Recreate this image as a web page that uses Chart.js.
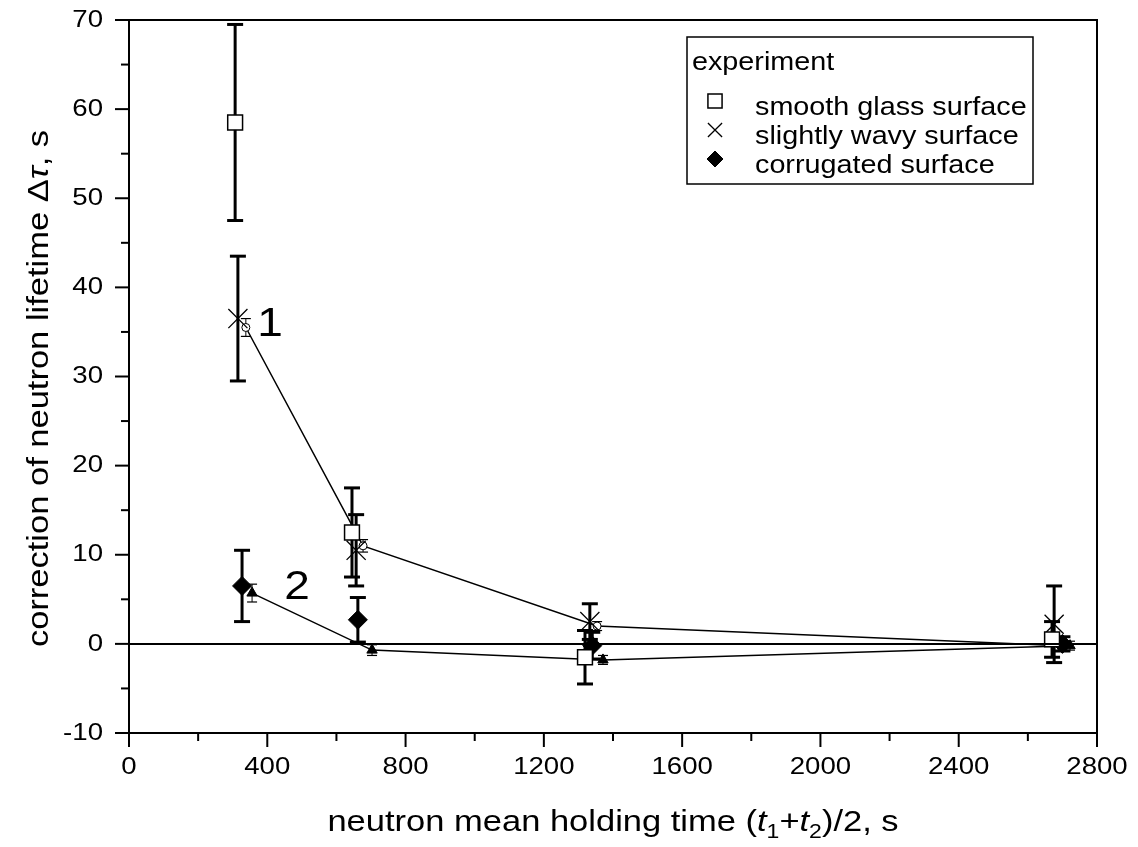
<!DOCTYPE html>
<html><head><meta charset="utf-8">
<script src="https://cdn.jsdelivr.net/npm/chart.js@4.4.1/dist/chart.umd.min.js"></script>
<style>html,body{margin:0;padding:0;background:#fff;overflow:hidden}canvas{display:block}</style>
</head><body>
<canvas id="c" width="1138" height="847"></canvas>
<script>
// ---------- data ----------
const xTicks = [0, 400, 800, 1200, 1600, 2000, 2400, 2800];
const yTicks = [-10, 0, 10, 20, 30, 40, 50, 60, 70];

const smoothX   = [307, 645, 1319, 2670];
const smoothY   = [58.5, 12.5, -1.5, 0.5];
const smoothErr = [11, 5, 3, 2];

const wavyX   = [315, 657, 1333, 2676];
const wavyY   = [36.5, 10.5, 2.5, 2.2];
const wavyErr = [7, 4, 2, 4.3];

const corrX   = [327, 662, 1340, 2700];
const corrY   = [6.5, 2.7, -0.2, 0.0];
const corrErr = [4, 2.5, 1.5, 0.8];

const calc1X   = [338, 677, 1354, 2700];
const calc1Y   = [35.5, 11.0, 2.0, -0.2];
const calc1Err = [1.0, 0.7, 0.5, 0.4];

const calc2X   = [356, 703, 1371, 2722];
const calc2Y   = [5.7, -0.7, -1.8, -0.2];
const calc2Err = [1.0, 0.6, 0.5, 0.5];

const curveLabels = ['1', '2'];
const curveLabelX = [408, 486];
const curveLabelY = [35.8, 6.3];

const legendTitle = 'experiment';
const legendNames = ['smooth glass surface', 'slightly wavy surface', 'corrugated surface'];

// ---------- rendering ----------
const SX = 1.15;
const FONT = '"Liberation Sans", Arial, sans-serif';
const canvas = document.getElementById('c');
const ctx0 = canvas.getContext('2d');
const origFill = CanvasRenderingContext2D.prototype.fillText;
ctx0.fillText = function (t, x, y, mw) {
  this.save(); this.translate(x, y); this.scale(SX, 1);
  origFill.call(this, t, 0, 0); this.restore();
};

const pts = (xs, ys) => xs.map((x, i) => ({ x: x, y: ys[i] }));

function seg(ctx, x1, y1, x2, y2) { ctx.beginPath(); ctx.moveTo(x1, y1); ctx.lineTo(x2, y2); ctx.stroke(); }

const errorBars = {
  id: 'errorBars',
  beforeDatasetsDraw(chart) {
    const { ctx, scales: { x, y } } = chart;
    ctx.save(); ctx.strokeStyle = '#000'; ctx.lineCap = 'butt';
    chart.data.datasets.forEach(ds => {
      if (!ds.errors) return;
      ds.data.forEach((p, i) => {
        const e = ds.errors[i];
        const px = x.getPixelForValue(p.x);
        const yt = y.getPixelForValue(p.y + e), yb = y.getPixelForValue(p.y - e);
        ctx.lineWidth = ds.errWidth;
        seg(ctx, px, yt, px, yb);
        ctx.lineWidth = ds.capLine;
        seg(ctx, px - ds.cap, yt, px + ds.cap, yt);
        seg(ctx, px - ds.cap, yb, px + ds.cap, yb);
      });
    });
    ctx.restore();
  }
};

const frame = {
  id: 'frame',
  afterDraw(chart) {
    const { ctx, chartArea: a, scales: { x, y } } = chart;
    ctx.save();
    ctx.strokeStyle = '#000'; ctx.lineWidth = 2;
    ctx.strokeRect(a.left, a.top, a.right - a.left, a.bottom - a.top);
    const y0 = y.getPixelForValue(0);
    seg(ctx, a.left, y0, a.right, y0);
    // major & minor ticks
    const yv = y.ticks.map(t => t.value);
    yv.forEach((v, i) => {
      const p = y.getPixelForValue(v);
      seg(ctx, a.left - 14, p, a.left, p);
      if (i < yv.length - 1) { const m = y.getPixelForValue((v + yv[i + 1]) / 2); seg(ctx, a.left - 8, m, a.left, m); }
    });
    const xv = x.ticks.map(t => t.value);
    xv.forEach((v, i) => {
      const p = x.getPixelForValue(v);
      seg(ctx, p, a.bottom, p, a.bottom + 14);
      if (i < xv.length - 1) { const m = x.getPixelForValue((v + xv[i + 1]) / 2); seg(ctx, m, a.bottom, m, a.bottom + 8); }
    });

    ctx.fillStyle = '#000';
    // curve labels
    ctx.font = '40px ' + FONT; ctx.textAlign = 'center'; ctx.textBaseline = 'middle';
    curveLabels.forEach((t, i) => ctx.fillText(t, x.getPixelForValue(curveLabelX[i]), y.getPixelForValue(curveLabelY[i])));

    // x title
    ctx.textBaseline = 'alphabetic'; ctx.textAlign = 'left';
    const big = '30px ' + FONT, it = 'italic 30px ' + FONT, sub = '20px ' + FONT;
    const parts = [
      ['neutron mean holding time (', big, 0], ['t', it, 0], ['1', sub, 7],
      ['+', big, 0], ['t', it, 0], ['2', sub, 7], [')/2, s', big, 0]
    ];
    let tw = 0;
    parts.forEach(p => { ctx.font = p[1]; tw += ctx.measureText(p[0]).width * SX; });
    let cx = (a.left + a.right) / 2 - tw / 2;
    const by = 831;
    parts.forEach(p => { ctx.font = p[1]; ctx.fillText(p[0], cx, by + p[2]); cx += ctx.measureText(p[0]).width * SX; });

    // y title (rotated, centred on the plot)
    const yparts = [['correction of neutron lifetime ', big], ['\u0394', big], ['\u03C4', it], [', s', big]];
    let yw = 0;
    yparts.forEach(p => { ctx.font = p[1]; yw += ctx.measureText(p[0]).width * SX; });
    ctx.save();
    ctx.translate(48, (a.top + a.bottom) / 2 + 12);
    ctx.rotate(-Math.PI / 2);
    let ty = -yw / 2;
    yparts.forEach(p => { ctx.font = p[1]; ctx.fillText(p[0], ty, 0); ty += ctx.measureText(p[0]).width * SX; });
    ctx.restore();

    // legend
    const L = 687, T = 37, W = 346, H = 147;
    ctx.lineWidth = 1.5;
    ctx.fillStyle = '#fff'; ctx.fillRect(L, T, W, H);
    ctx.strokeRect(L, T, W, H);
    ctx.fillStyle = '#000';
    ctx.font = '25px ' + FONT; ctx.textAlign = 'left'; ctx.textBaseline = 'alphabetic';
    ctx.fillText(legendTitle, 692, 70);
    const rows = [101, 130, 159];
    const ds = chart.data.datasets;
    legendNames.forEach((n, i) => {
      const d = ds[i];
      ctx.fillText(n, 755, rows[i] + 14);
      ctx.save();
      ctx.lineWidth = d.pointBorderWidth; ctx.strokeStyle = '#000'; ctx.fillStyle = d.pointBackgroundColor;
      Chart.helpers.drawPoint(ctx, { pointStyle: d.pointStyle, radius: d.legendRadius, borderWidth: d.pointBorderWidth, rotation: 0 }, 715, rows[i]);
      ctx.restore();
    });
    ctx.restore();
  }
};

const noPad = s => { s.paddingTop = 0; s.paddingBottom = 0; s.paddingLeft = 0; s.paddingRight = 0; };

new Chart(canvas, {
  type: 'scatter',
  data: {
    datasets: [
      { label: legendNames[0], data: pts(smoothX, smoothY), errors: smoothErr, errWidth: 3, capLine: 3, cap: 8,
        pointStyle: 'rect', pointRadius: 10.5, legendRadius: 10, pointBackgroundColor: '#fff', pointBorderColor: '#000', pointBorderWidth: 1.5, showLine: false },
      { label: legendNames[1], data: pts(wavyX, wavyY), errors: wavyErr, errWidth: 3, capLine: 3, cap: 8,
        pointStyle: 'crossRot', pointRadius: 13.5, legendRadius: 10, pointBackgroundColor: '#000', pointBorderColor: '#000', pointBorderWidth: 1.3, showLine: false },
      { label: legendNames[2], data: pts(corrX, corrY), errors: corrErr, errWidth: 3, capLine: 3, cap: 8,
        pointStyle: 'rectRot', pointRadius: 9.5, legendRadius: 8, pointBackgroundColor: '#000', pointBorderColor: '#000', pointBorderWidth: 1, showLine: false },
      { label: 'calc 1', data: pts(calc1X, calc1Y), errors: calc1Err, errWidth: 1, capLine: 1.2, cap: 5,
        pointStyle: 'circle', pointRadius: 4, pointBackgroundColor: '#fff', pointBorderColor: '#000', pointBorderWidth: 1,
        showLine: true, borderColor: '#000', borderWidth: 1.5, tension: 0 },
      { label: 'calc 2', data: pts(calc2X, calc2Y), errors: calc2Err, errWidth: 1, capLine: 1.2, cap: 5,
        pointStyle: 'triangle', pointRadius: 6, pointBackgroundColor: '#000', pointBorderColor: '#000', pointBorderWidth: 1,
        showLine: true, borderColor: '#000', borderWidth: 1.5, tension: 0 }
    ]
  },
  options: {
    responsive: false, animation: false, devicePixelRatio: 1,
    layout: { padding: { top: 20, right: 41, left: 0, bottom: 0 } },
    plugins: { legend: { display: false }, tooltip: { enabled: false } },
    scales: {
      x: {
        type: 'linear', min: 0, max: 2800,
        afterBuildTicks: s => { s.ticks = xTicks.map(v => ({ value: v })); },
        afterFit: s => { s.height = 114; noPad(s); },
        ticks: { color: '#000', font: { family: FONT, size: 24 }, padding: 20, maxRotation: 0, autoSkip: false,
                 callback: v => String(v) },
        grid: { display: false, drawTicks: false }, border: { display: false }
      },
      y: {
        type: 'linear', min: -10, max: 70,
        afterBuildTicks: s => { s.ticks = yTicks.map(v => ({ value: v })); },
        afterFit: s => { s.width = 129; noPad(s); },
        ticks: { color: '#000', font: { family: FONT, size: 24 }, padding: 26, autoSkip: false,
                 callback: v => String(v) },
        grid: { display: false, drawTicks: false }, border: { display: false }
      }
    }
  },
  plugins: [errorBars, frame]
});
</script>
</body></html>
